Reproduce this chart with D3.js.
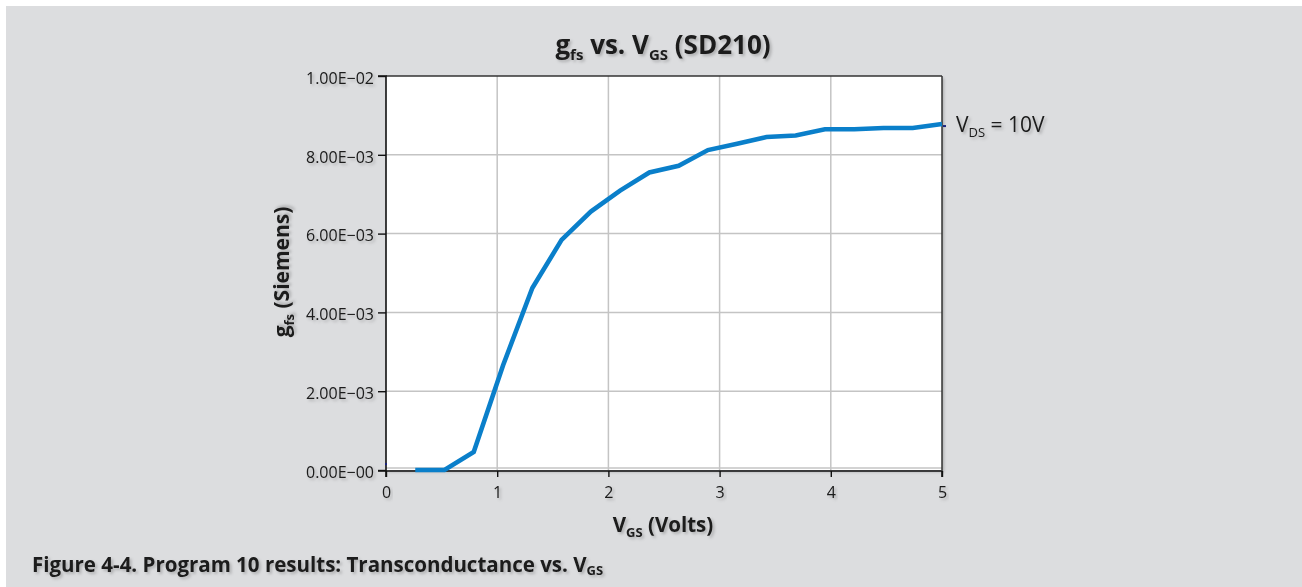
<!DOCTYPE html>
<html><head><meta charset="utf-8">
<script src="https://cdn.jsdelivr.net/npm/d3@7"></script>
<style>
html,body{margin:0;padding:0;background:#fff;}
svg{display:block;}
text{font-family:"Open Sans","Noto Sans",sans-serif;fill:#1a1a1a;}
</style></head>
<body>
<svg id="chart" width="1302" height="587"></svg>
<script>
const vgs = [0.263,0.526,0.789,1.053,1.316,1.579,1.842,2.105,2.368,2.632,2.895,3.158,3.421,3.684,3.947,4.211,4.474,4.737,5.0];
const gfs = [0,0,0.00046,0.00266,0.00462,0.00584,0.00656,0.00709,0.00755,0.00772,0.00812,0.00828,0.00845,0.00849,0.00865,0.00865,0.00868,0.00868,0.00878];
const xTicks = [0,1,2,3,4,5];
const yTicks = [0,0.002,0.004,0.006,0.008,0.01];
const yTickLabels = ["0.00E\u221200","2.00E\u221203","4.00E\u221203","6.00E\u221203","8.00E\u221203","1.00E\u221202"];
const seriesName = "= 10V";

const svg = d3.select("#chart");
const defs = svg.append("defs");
const f = defs.append("filter").attr("id","sh").attr("x","-20%").attr("y","-20%").attr("width","140%").attr("height","160%");
f.append("feDropShadow").attr("dx",2).attr("dy",2).attr("stdDeviation",1.6).attr("flood-color","#000").attr("flood-opacity",0.22);

svg.append("rect").attr("x",6).attr("y",6).attr("width",1296).attr("height",581).attr("fill","#dcdddf");

const L=386,R=942,T=76,B=470;
const x = d3.scaleLinear().domain([0,5]).range([L,R]);
const y = d3.scaleLinear().domain([0,0.01]).range([B,T]);

svg.append("rect").attr("x",L).attr("y",T).attr("width",R-L).attr("height",B-T).attr("fill","#fff").attr("filter","url(#sh)");

const g = svg.append("g");
// grid
g.selectAll(".vg").data(xTicks.slice(1,-1)).join("line")
  .attr("x1",d=>x(d)).attr("x2",d=>x(d)).attr("y1",T).attr("y2",B)
  .attr("stroke","#c4c4c4").attr("stroke-width",1.5);
g.selectAll(".hg").data(yTicks.slice(1,-1)).join("line")
  .attr("x1",L).attr("x2",R).attr("y1",d=>y(d)).attr("y2",d=>y(d))
  .attr("stroke","#c4c4c4").attr("stroke-width",1.5);
g.append("line").attr("x1",L).attr("x2",R).attr("y1",B-2).attr("y2",B-2).attr("stroke","#c4c4c4").attr("stroke-width",1.5);
// border top/right
g.append("line").attr("x1",L).attr("x2",R).attr("y1",T).attr("y2",T).attr("stroke","#333").attr("stroke-width",1.5);
g.append("line").attr("x1",R).attr("x2",R).attr("y1",T).attr("y2",B).attr("stroke","#333").attr("stroke-width",1.5);

// axes
const xa = svg.append("g").attr("transform",`translate(0,${B+1})`)
  .call(d3.axisBottom(x).tickValues(xTicks).tickFormat(d3.format("d")).tickSize(6).tickPadding(10));
const ya = svg.append("g").attr("transform",`translate(${L},0)`)
  .call(d3.axisLeft(y).tickValues(yTicks).tickFormat((d,i)=>yTickLabels[i]).tickSize(8).tickPadding(4));
[xa,ya].forEach(a=>{
  a.select(".domain").attr("stroke","#111").attr("stroke-width",1.6);
  a.selectAll(".tick line").attr("stroke","#111").attr("stroke-width",1.4);
  a.selectAll(".tick text").attr("font-family","'Open Sans',sans-serif").attr("font-size",16).attr("fill","#1a1a1a").attr("filter","url(#sh)");
});
ya.selectAll(".tick text").attr("dy","0.45em");
xa.select(".domain").attr("d",`M${L},6V0H${R}V6`);
ya.select(".domain").attr("d",`M-8,${T}H0V${B+1}H-8`);

// line
const line = d3.line().x((d,i)=>x(vgs[i])).y(d=>y(d));
svg.append("path").datum(gfs).attr("d",line).attr("fill","none")
  .attr("stroke","#0a7fca").attr("stroke-width",4.6).attr("stroke-linejoin","miter");

// small markers
svg.append("rect").attr("x",x(0)-1).attr("y",y(0.00015)-1).attr("width",2).attr("height",2).attr("fill","#1a237e");
svg.append("rect").attr("x",R+1).attr("y",y(gfs[gfs.length-1])+1).attr("width",3).attr("height",2).attr("fill","#1a237e");

// legend
const lg = svg.append("text").attr("x",956).attr("y",132).attr("font-size",21).attr("filter","url(#sh)");
lg.append("tspan").text("V");
lg.append("tspan").text("DS").attr("font-size",13).attr("dy",5);
lg.append("tspan").text(" " + seriesName).attr("dy",-5);

// title
const tt = svg.append("text").attr("x",663).attr("y",54).attr("text-anchor","middle").attr("font-size",26).attr("font-weight",700).attr("filter","url(#sh)");
tt.append("tspan").text("g");
tt.append("tspan").text("fs").attr("font-size",15).attr("dy",6);
tt.append("tspan").text(" vs. V").attr("dy",-6);
tt.append("tspan").text("GS").attr("font-size",15).attr("dy",6);
tt.append("tspan").text(" (SD210)").attr("dy",-6);

// x axis title
const xt = svg.append("text").attr("x",663).attr("y",532).attr("text-anchor","middle").attr("font-size",20.5).attr("font-weight",700).attr("filter","url(#sh)");
xt.append("tspan").text("V");
xt.append("tspan").text("GS").attr("font-size",13).attr("dy",5);
xt.append("tspan").text(" (Volts)").attr("dy",-5);

// y axis title
const yt = svg.append("text").attr("transform","translate(289,272) rotate(-90)").attr("text-anchor","middle").attr("font-size",21).attr("font-weight",700).attr("filter","url(#sh)");
yt.append("tspan").text("g");
yt.append("tspan").text("fs").attr("font-size",13).attr("dy",5);
yt.append("tspan").text(" (Siemens)").attr("dy",-5);

// caption
const cp = svg.append("text").attr("x",32).attr("y",572).attr("font-size",20.5).attr("font-weight",700).attr("fill","#2a2a2a").attr("filter","url(#sh)");
cp.append("tspan").text("Figure 4-4. Program 10 results: Transconductance vs. V");
cp.append("tspan").text("GS").attr("font-size",13).attr("dy",3);
</script>
</body></html>
